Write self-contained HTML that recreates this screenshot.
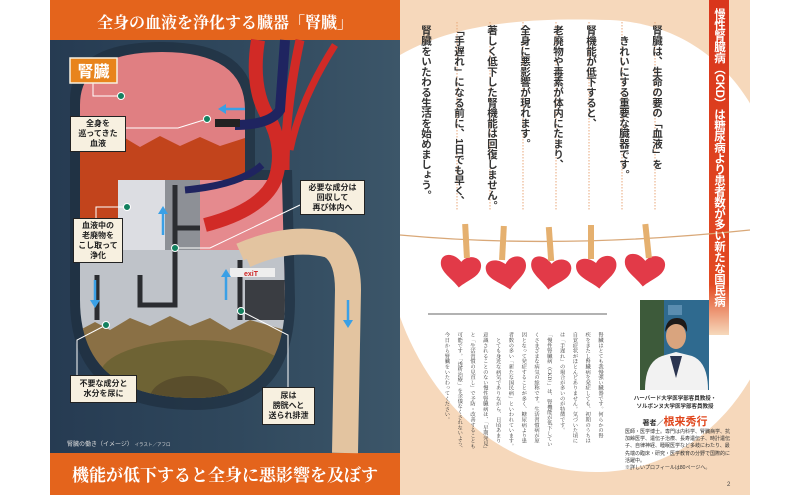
<!DOCTYPE html>
<html><head><meta charset="utf-8"><style>
*{margin:0;padding:0;box-sizing:border-box}
body{width:800px;height:495px;overflow:hidden;background:#fff;position:relative;font-family:"Liberation Sans","Noto Sans CJK JP",sans-serif}
.abs{position:absolute}
.v{writing-mode:vertical-rl;white-space:nowrap}
.lab{position:absolute;background:#f7f0e0;border:1.5px solid #222;color:#222;font-weight:bold;font-size:8px;line-height:10px;text-align:center;display:flex;align-items:center;justify-content:center}
</style></head><body>
<svg class="abs" style="left:0;top:0" width="800" height="495" viewBox="0 0 800 495">
<defs>
<linearGradient id="bg" x1="0" y1="0" x2="1" y2="0"><stop offset="0" stop-color="#263b52"/><stop offset="0.5" stop-color="#2f475c"/><stop offset="1" stop-color="#3c5669"/></linearGradient>
<linearGradient id="redbar" x1="0" y1="0" x2="0" y2="1"><stop offset="0" stop-color="#d9361c"/><stop offset="0.85" stop-color="#e24a22"/><stop offset="1" stop-color="#f6d9bc"/></linearGradient>
<clipPath id="rp"><rect x="400" y="0" width="350" height="495"/></clipPath>
<clipPath id="kid"><path d="M80,150 L80,105 Q80,52 162,52 Q245,52 245,110 L245,180 L282,180 L285,300 Q285,398 195,398 Q80,398 80,300 Z"/></clipPath>
</defs>
<rect x="400" y="0" width="350" height="495" fill="#f6d8bb"/>
<path d="M400,55 C460,20 540,18 610,20 C720,25 785,120 785,240 C785,380 700,470 600,472 C500,474 430,400 400,317Z" fill="#fff" clip-path="url(#rp)"/>
<rect x="709" y="0" width="20" height="335" fill="url(#redbar)"/>
<g stroke="#e8a77a" stroke-width="1" stroke-dasharray="1.5,1.5">
<line x1="655" y1="22" x2="655" y2="210"/><line x1="622" y1="22" x2="622" y2="210"/><line x1="589" y1="22" x2="589" y2="210"/><line x1="556" y1="22" x2="556" y2="210"/><line x1="523" y1="22" x2="523" y2="210"/><line x1="490" y1="22" x2="490" y2="210"/><line x1="457" y1="22" x2="457" y2="210"/>
</g>
<path d="M400,235 Q560,250 750,230" stroke="#d9a878" stroke-width="1.3" fill="none"/>
<g fill="#e23a48">
<path transform="translate(461,272) rotate(8) scale(1.12)" d="M0,14 C-8,6 -20,2 -19,-8 C-18,-15 -8,-16 -1,-9 C4,-17 16,-16 17,-8 C18,2 7,6 0,14Z"/>
<path transform="translate(508,274) rotate(-8) scale(1.12)" d="M0,14 C-8,6 -20,2 -19,-8 C-18,-15 -8,-16 -1,-9 C4,-17 16,-16 17,-8 C18,2 7,6 0,14Z"/>
<path transform="translate(551,274) rotate(10) scale(1.12)" d="M0,14 C-8,6 -20,2 -19,-8 C-18,-15 -8,-16 -1,-9 C4,-17 16,-16 17,-8 C18,2 7,6 0,14Z"/>
<path transform="translate(598,273) rotate(-5) scale(1.12)" d="M0,14 C-8,6 -20,2 -19,-8 C-18,-15 -8,-16 -1,-9 C4,-17 16,-16 17,-8 C18,2 7,6 0,14Z"/>
<path transform="translate(645,271) rotate(8) scale(1.12)" d="M0,14 C-8,6 -20,2 -19,-8 C-18,-15 -8,-16 -1,-9 C4,-17 16,-16 17,-8 C18,2 7,6 0,14Z"/>
</g>
<g fill="#e5b06f">
<rect x="463" y="224" width="6" height="34" transform="rotate(-3 466 240)"/>
<rect x="500" y="226" width="6" height="34" transform="rotate(3 503 242)"/>
<rect x="547" y="227" width="6" height="34" transform="rotate(-4 550 244)"/>
<rect x="588" y="225" width="6" height="34"/>
<rect x="644" y="224" width="6" height="34" transform="rotate(-6 647 240)"/>
</g>
<line x1="428" y1="314" x2="607" y2="314" stroke="#666" stroke-width="1"/>
<rect x="640" y="300" width="69" height="90" fill="#2f6a8f"/>
<rect x="640" y="300" width="24" height="90" fill="#3d5a3a"/>
<rect x="668" y="305" width="14" height="10" fill="#5a8db0"/>
<path d="M645,390 Q645,362 662,356 L676,352 L692,356 Q708,362 708,390Z" fill="#f2f2f2"/>
<path d="M670,356 L676,378 L682,356Z" fill="#2b3550"/>
<ellipse cx="676" cy="336" rx="10" ry="13" fill="#d9a47e"/>
<path d="M665,332 Q666,318 677,318 Q688,318 687,332 Q683,324 676,324 Q670,324 665,332Z" fill="#1e1a18"/>
<rect x="50" y="0" width="350" height="40" fill="#e4641c"/>
<rect x="50" y="40" width="350" height="413" fill="url(#bg)"/>
<rect x="50" y="453" width="350" height="42" fill="#e4641c"/>
<path d="M70,150 L70,100 Q70,42 162,42 Q255,42 255,110 L255,170 L292,170 L295,300 Q295,410 195,410 Q70,410 70,300Z" fill="#1c2b3a" opacity="0.6"/>
<g clip-path="url(#kid)">
<rect x="70" y="40" width="230" height="110" fill="#e07f82"/>
<path d="M80,150 L95,140 L110,148 L125,138 L140,147 L160,136 L180,146 L200,137 L220,146 L245,138 L245,185 L80,185Z" fill="#c2441c"/>
<rect x="80" y="180" width="40" height="70" fill="#c2441c"/>
<rect x="118" y="180" width="48" height="80" fill="#dcdde2"/>
<rect x="165" y="180" width="35" height="75" fill="#8d9096"/>
<rect x="200" y="180" width="85" height="110" fill="#e58a8e"/>
<rect x="80" y="250" width="205" height="80" fill="#bfc3c9"/>
<rect x="245" y="280" width="40" height="40" fill="#3a3d42"/>
<path d="M80,330 L95,322 L110,330 L130,318 L150,326 L170,316 L190,326 L210,318 L230,330 L250,320 L285,330 L285,400 L80,400Z" fill="#8a7045"/>
<ellipse cx="195" cy="375" rx="95" ry="35" fill="#6e6334"/>
<ellipse cx="190" cy="398" rx="40" ry="22" fill="#5a4e2c"/>
</g>
<path d="M258,40 Q250,90 270,120 Q285,150 275,180 Q262,210 205,225" stroke="#d12a26" stroke-width="14" fill="none"/>
<path d="M300,40 Q285,110 285,170" stroke="#d12a26" stroke-width="9" fill="none"/>
<path d="M335,45 Q300,100 290,150" stroke="#d12a26" stroke-width="7" fill="none"/>
<path d="M285,40 Q282,80 280,110 Q270,125 235,125" stroke="#1f2460" stroke-width="10" fill="none"/>
<path d="M262,165 Q240,185 185,190" stroke="#1f2460" stroke-width="7" fill="none"/>
<rect x="215" y="119" width="25" height="8" fill="#222"/>
<path d="M245,255 Q290,235 330,245 Q348,255 348,290 L345,453" stroke="#e3c4a0" stroke-width="26" fill="none"/>
<path d="M240,252 Q285,232 330,242" stroke="#e3c4a0" stroke-width="18" fill="none"/>
<g stroke="#2b2d31" stroke-width="5" fill="none">
<path d="M175,185 L175,305 L140,305 L140,275"/>
<path d="M175,228 L200,228"/>
<path d="M97,275 L97,320"/>
<path d="M240,260 L240,320"/>
</g>
<rect x="230" y="268" width="45" height="9" fill="#eee"/>
<text x="244" y="276" font-size="7" fill="#c22" font-weight="bold" font-family="Liberation Sans">exiT</text>
<g stroke="#3aa0e6" stroke-width="2.5" fill="#3aa0e6">
<line x1="245" y1="109" x2="224" y2="109"/><path d="M218,109 L226,104 L226,114Z" stroke="none"/>
<line x1="163" y1="235" x2="163" y2="212"/><path d="M163,206 L158,214 L168,214Z" stroke="none"/>
<line x1="226" y1="300" x2="226" y2="275"/><path d="M226,269 L221,277 L231,277Z" stroke="none"/>
<line x1="95" y1="280" x2="95" y2="302"/><path d="M95,308 L90,300 L100,300Z" stroke="none"/>
<line x1="348" y1="300" x2="348" y2="322"/><path d="M348,328 L343,320 L353,320Z" stroke="none"/>
</g>
<g stroke="#fff" stroke-width="1" fill="none">
<polyline points="93,83 93,96 121,96"/>
<polyline points="126,128 178,128 207,119"/>
<polyline points="96,218 96,207 127,207"/>
<polyline points="175,248 210,248 300,205"/>
<polyline points="77,375 77,340 106,325"/>
<polyline points="288,387 288,335 241,311"/>
</g>
<g fill="#13805f" stroke="#fff" stroke-width="1">
<circle cx="121" cy="96" r="3.5"/><circle cx="207" cy="119" r="3.5"/><circle cx="127" cy="207" r="3.5"/><circle cx="175" cy="248" r="3.5"/><circle cx="106" cy="325" r="3.5"/><circle cx="241" cy="311" r="3.5"/>
</g>
<rect x="70" y="58" width="47" height="25" fill="#e8841c" stroke="#f7f0e0" stroke-width="1.5"/>
<text x="93.5" y="77" font-size="16" font-weight="bold" fill="#fff" text-anchor="middle" font-family="Liberation Sans,Noto Sans CJK JP,sans-serif">腎臓</text>
<text x="225" y="28" font-size="16" font-weight="bold" fill="#fff" text-anchor="middle" font-family="Liberation Serif,Noto Serif CJK SC,serif">全身の血液を浄化する臓器「腎臓」</text>
<text x="225" y="481" font-size="17" font-weight="bold" fill="#fff" text-anchor="middle" font-family="Liberation Serif,Noto Serif CJK SC,serif">機能が低下すると全身に悪影響を及ぼす</text>
<text x="67" y="446" font-size="6" fill="#ddd" font-family="Liberation Sans,Noto Sans CJK JP,sans-serif">腎臓の働き（イメージ） <tspan font-size="4.5">イラスト／アフロ</tspan></text>
<text x="727" y="486" font-size="6" fill="#444" font-family="Liberation Sans">2</text>
</svg>

<div class="lab" style="left:70px;top:116px;width:56px;height:36px">全身を<br>巡ってきた<br>血液</div>
<div class="lab" style="left:73px;top:218px;width:50px;height:45px">血液中の<br>老廃物を<br>こし取って<br>浄化</div>
<div class="lab" style="left:300px;top:180px;width:65px;height:35px">必要な成分は<br>回収して<br>再び体内へ</div>
<div class="lab" style="left:70px;top:375px;width:67px;height:28px">不要な成分と<br>水分を尿に</div>
<div class="lab" style="left:262px;top:387px;width:53px;height:38px">尿は<br>膀胱へと<br>送られ排泄</div>

<div class="abs v" style="left:712px;top:8px;font-size:11.5px;font-weight:bold;color:#fff;line-height:14px;letter-spacing:-0.5px">慢性腎臓病（CKD）は糖尿病より患者数が多い新たな国民病</div>

<div class="abs v" style="right:127px;top:25px;font-size:10.5px;font-weight:bold;color:#333;line-height:33px;letter-spacing:-0.2px">腎臓は、生命の要の「血液」を<br>　きれいにする重要な臓器です。<br>腎機能が低下すると、<br>老廃物や毒素が体内にたまり、<br>全身に悪影響が現れます。<br>著しく低下した腎機能は回復しません。<br>「手遅れ」になる前に、1日でも早く、<br>腎臓をいたわる生活を始めましょう。</div>

<div class="abs v" style="right:194px;top:332px;font-size:5.3px;color:#333;line-height:12.8px;font-family:'Liberation Serif','Noto Serif CJK SC',serif">腎臓はとても我慢強い臓器です。何らかの腎<br>疾をきたし腎臓病を発症しても、初期のうちは<br>自覚症状がほとんどありません。気づいた頃に<br>は「手遅れ」の場合が多いのが特徴です。<br>「慢性腎臓病（CKD）」は、腎機能が低下してい<br>くさまざまな病気の総称です。生活習慣病が原<br>因となって発症することが多く、糖尿病より患<br>者数の多い「新たな国民病」といわれています。<br>　とても身近な病気でありながら、日頃あまり<br>意識されることのない慢性腎臓病は、「早期発見」<br>と「生活習慣の見直し」で予防・改善することも<br>可能です。「透析治療」を余儀なくされないよう、<br>今日から腎臓をいたわってください。</div>

<div class="abs" style="left:620px;top:395px;width:110px;text-align:center;font-size:5.5px;line-height:8px;font-weight:bold;color:#333">ハーバード大学医学部客員教授・<br>ソルボンヌ大学医学部客員教授</div>
<div class="abs" style="left:620px;top:413px;width:110px;text-align:center;font-size:7px;font-weight:bold;color:#333">著者／<span style="font-size:11px;color:#e0461c">根来秀行</span></div>
<div class="abs" style="left:625px;top:429px;width:105px;font-size:5px;line-height:7.2px;color:#333">医師・医学博士。専門は内科学、腎臓病学、抗加齢医学、遺伝子治療、長寿遺伝子、時計遺伝子、自律神経、睡眠医学など多岐にわたり、最先端の臨床・研究・医学教育の分野で国際的に活躍中。<br>※詳しいプロフィールは80ページへ。</div>
</body></html>
